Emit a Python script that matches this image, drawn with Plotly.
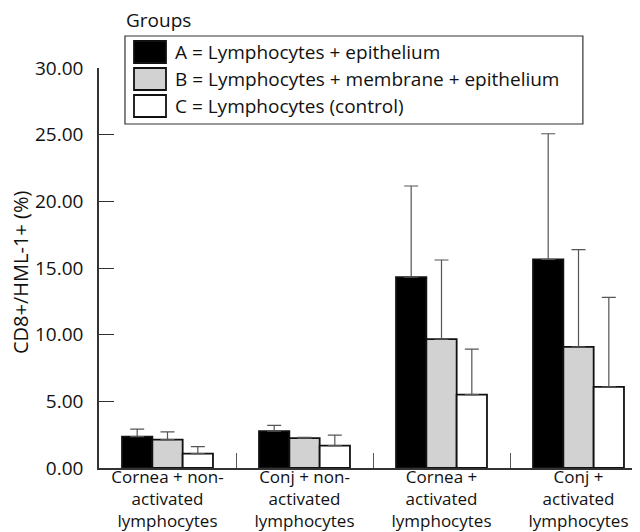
import plotly.graph_objects as go

categories = ["Cornea + non-<br>activated<br>lymphocytes",
              "Conj + non-<br>activated<br>lymphocytes",
              "Cornea +<br>activated<br>lymphocytes",
              "Conj +<br>activated<br>lymphocytes"]
series_names = ["A = Lymphocytes + epithelium",
                "B = Lymphocytes + membrane + epithelium",
                "C = Lymphocytes (control)"]
values_a = [2.36, 2.76, 14.32, 15.65]
values_b = [2.13, 2.24, 9.67, 9.09]
values_c = [1.08, 1.68, 5.50, 6.08]
errors_a = [0.56, 0.43, 6.83, 9.42]
errors_b = [0.58, 0.05, 5.93, 7.29]
errors_c = [0.53, 0.78, 3.42, 6.71]
y_ticks = [0, 5, 10, 15, 20, 25, 30]
y_title = "CD8+/HML-1+ (%)"
legend_title = "Groups"
colors = ["#000000", "#d2d2d2", "#ffffff"]

FONT = "Open Sans"
x = list(range(len(categories)))
fig = go.Figure()
for name, vals, errs, col in zip(series_names, [values_a, values_b, values_c],
                                 [errors_a, errors_b, errors_c], colors):
    fig.add_trace(go.Bar(
        x=x, y=vals, name=name, showlegend=False,
        marker=dict(color=col, line=dict(color="#111111", width=1.8)),
        error_y=dict(type="data", symmetric=False, array=errs,
                     arrayminus=[0] * len(errs), color="#555555",
                     thickness=1.2, width=7),
    ))

# manual legend (box, swatches, labels) in paper coordinates
lx0, lx1, ly0, ly1 = 0.0474, 0.883, 0.86, 1.08
fig.add_shape(type="rect", xref="paper", yref="paper", x0=lx0, x1=lx1, y0=ly0, y1=ly1,
              line=dict(color="#333333", width=1.2), fillcolor="white", layer="above")
row_h = 27 / 400
for i, (name, col) in enumerate(zip(series_names, colors)):
    yc = (460 - 44) / 400 - i * row_h
    fig.add_shape(type="rect", xref="paper", yref="paper",
                  x0=(126 - 91) / 548, x1=(158 - 91) / 548,
                  y0=yc - 11 / 400, y1=yc + 11 / 400,
                  line=dict(color="#111111", width=1.8), fillcolor=col, layer="above")
    fig.add_annotation(xref="paper", yref="paper", x=(165 - 91) / 548, y=yc,
                       text=name, showarrow=False, xanchor="left", yanchor="middle",
                       font=dict(family=FONT, size=19, color="#111111"))
fig.add_annotation(xref="paper", yref="paper", x=(116 - 91) / 548, y=(460 - 12) / 400,
                   text=legend_title, showarrow=False, xanchor="left", yanchor="middle",
                   font=dict(family=FONT, size=19, color="#111111"))
# y-axis title
fig.add_annotation(xref="paper", yref="paper", x=(12 - 91) / 548, y=(460 - 265) / 400,
                   text=y_title, showarrow=False, textangle=-90,
                   xanchor="center", yanchor="middle",
                   font=dict(family=FONT, size=20, color="#111111"))

fig.update_layout(
    width=640, height=532,
    margin=dict(l=91, r=1, t=60, b=72),
    paper_bgcolor="white", plot_bgcolor="white",
    barmode="group", bargap=0.336, bargroupgap=0,
    font=dict(family=FONT, size=17, color="#111111"),
    xaxis=dict(range=[-0.5, 3.5], tickvals=x, ticktext=categories, ticks="",
               showgrid=False, zeroline=False, showline=True, linecolor="#333333",
               linewidth=1.5, tickfont=dict(size=17), ticklabelstandoff=-7,
               minor=dict(tickvals=[0.5, 1.5, 2.5, 3.5], ticks="inside", ticklen=15,
                          tickcolor="#555555", tickwidth=1.2, showgrid=False)),
    yaxis=dict(range=[0, 30], tickvals=y_ticks, tickformat=".2f", ticks="inside",
               ticklen=15, tickwidth=1.2, tickcolor="#333333", showgrid=False,
               zeroline=False, showline=True, linecolor="#333333", linewidth=1.5,
               tickfont=dict(size=19), ticklabelstandoff=10),
)
fig.write_html("out.html")
